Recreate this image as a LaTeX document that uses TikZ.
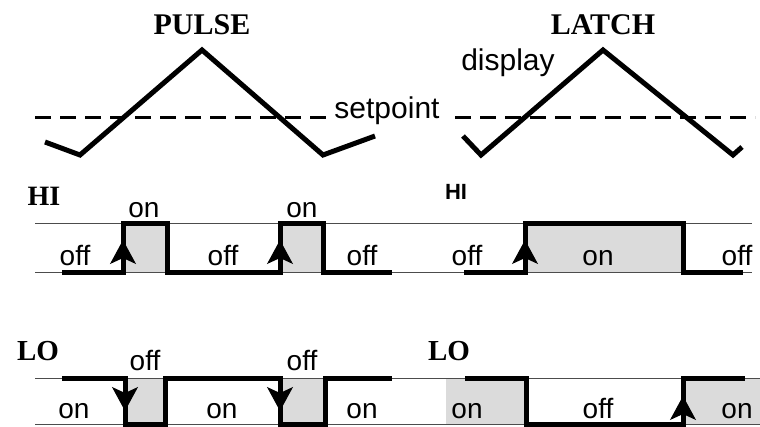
\documentclass[tikz,border=0pt]{standalone}
\usepackage{fontspec}
\setmainfont{Liberation Sans}
\newfontfamily\titlefont{Liberation Serif}
\usepackage{tikz}
\usetikzlibrary{arrows.meta,positioning}

\begin{document}
\begin{tikzpicture}[
		x=1pt, y=-1pt,
		wave/.style={line width=5pt, line join=miter},
		setline/.style={line width=3pt, dash pattern=on 16pt off 9pt},
		level/.style={line width=1pt, draw=black!70},
		signal/.style={line width=5pt, line join=miter},
		onbox/.style={fill=black!14, draw=none},
		state/.style={anchor=base, inner sep=0pt, font=\fontsize{28}{30}\selectfont},
		word/.style={anchor=base, inner sep=0pt, font=\fontsize{30}{32}\selectfont},
		title/.style={anchor=base, inner sep=0pt, font=\titlefont\bfseries\fontsize{30}{32}\selectfont},
		edgetip/.style={arrows={-Stealth[length=24pt, width=26pt, inset=6pt]}, line width=1pt}
		]
	\useasboundingbox (0,0) rectangle (760,426);

		% --- affichage et consigne ---
		\node[title] (pulse) at (202,34) {PULSE};
		\node[title] (latch) at (603,34) {LATCH};
		\node[word] (disp) at (508,70) {display};
		\node[word] (setp) at (387,118) {setpoint};

		\draw[setline] (35,117) -- (330,117);
		\draw[setline] (455,117) -- (755,117);
		\draw[wave] (45,142) -- (80,155) -- (202,50) -- (323,155) -- (375,136);
		\draw[wave] (463,136) -- (481,155) -- (603,50) -- (733,155) -- (742,147);

		% --- sortie HI ---
		\node[title, font=\titlefont\bfseries\fontsize{28}{30}\selectfont] (hiP) at (44,205) {HI};
		\node[anchor=base, inner sep=0pt, font=\bfseries\fontsize{22}{24}\selectfont] (hiL) at (456,199) {HI};

		\fill[onbox] (123,223) rectangle (167,272);
		\fill[onbox] (280,223) rectangle (323,272);
		\fill[onbox] (525,223) rectangle (683,272);
		\draw[level] (35,223) -- (752,223);
		\draw[level] (35,272) -- (752,272);

		\draw[signal] (62,272) -- (123,272) -- (123,223) -- (167,223) -- (167,272)
			-- (280,272) -- (280,223) -- (323,223) -- (323,272) -- (392,272);
		\draw[signal] (464,272) -- (525,272) -- (525,223) -- (683,223) -- (683,272) -- (743,272);
		\draw[edgetip] (123,268) -- (123,240);
		\draw[edgetip] (280,268) -- (280,240);
		\draw[edgetip] (525,268) -- (525,240);

		\node[state] (h1) at (75,265) {off};
		\node[state] (h2) at (144,217) {on};
		\node[state] (h3) at (223,265) {off};
		\node[state] (h4) at (302,217) {on};
		\node[state] (h5) at (362,265) {off};
		\node[state] (h6) at (467,265) {off};
		\node[state] (h7) at (598,265) {on};
		\node[state] (h8) at (737,265) {off};

		% --- sortie LO ---
		\node[title, font=\titlefont\bfseries\fontsize{29}{30}\selectfont] (loP) at (38,360) {LO};
		\node[title, font=\titlefont\bfseries\fontsize{29}{30}\selectfont] (loL) at (449,360) {LO};

		\fill[onbox] (125,378) rectangle (165,424);
		\fill[onbox] (280,378) rectangle (325,424);
		\fill[onbox] (446,378) rectangle (526,424);
		\fill[onbox] (683,378) rectangle (760,424);
		\draw[level] (35,378) -- (760,378);
		\draw[level] (35,424) -- (760,424);

		\draw[signal] (62,378) -- (125,378) -- (125,424) -- (165,424) -- (165,378)
			-- (280,378) -- (280,424) -- (325,424) -- (325,378) -- (392,378);
		\draw[signal] (465,378) -- (526,378) -- (526,424) -- (683,424) -- (683,378) -- (745,378);
		\draw[edgetip] (125,382) -- (125,411);
		\draw[edgetip] (280,382) -- (280,411);
		\draw[edgetip] (683,421) -- (683,396);

		\node[state] (l1) at (74,418) {on};
		\node[state] (l2) at (145,370) {off};
		\node[state] (l3) at (222,418) {on};
		\node[state] (l4) at (302,370) {off};
		\node[state] (l5) at (362,418) {on};
		\node[state] (l6) at (467,418) {on};
		\node[state] (l7) at (598,418) {off};
		\node[state] (l8) at (737,418) {on};

	\end{tikzpicture}
\end{document}
